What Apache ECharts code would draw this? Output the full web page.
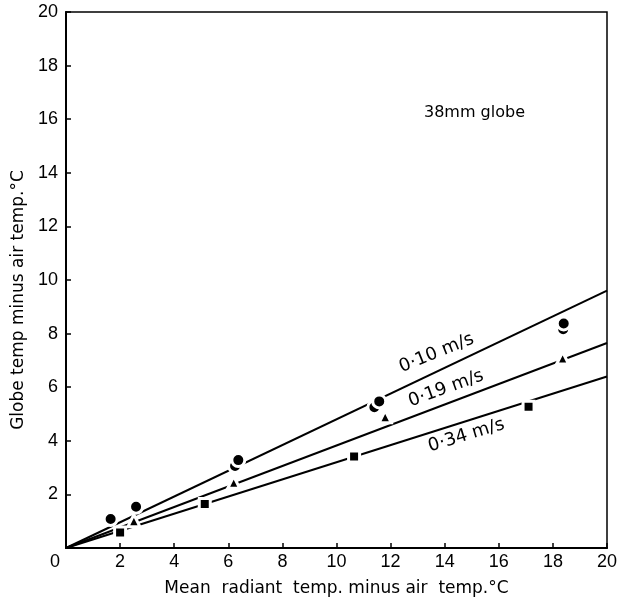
<!DOCTYPE html>
<html>
<head>
<meta charset="utf-8">
<script src="https://cdn.jsdelivr.net/npm/echarts@6/dist/echarts.min.js"></script>
<style>html,body{margin:0;padding:0;background:#fff;}#c{width:618px;height:599px;}</style>
</head>
<body>
<div id="c"></div>
<script>
// Fitted lines (start and end in data units)
const line010 = [[0, 0], [20, 9.6]];
const line019 = [[0, 0], [20, 7.65]];
const line034 = [[0, 0], [20, 6.4]];

// Measured points
const circles010 = [[1.65, 1.08], [2.59, 1.54], [6.25, 3.06], [6.37, 3.28], [11.4, 5.25], [11.58, 5.47], [18.38, 8.16], [18.4, 8.38]];
const triangles019 = [[2.51, 1.02], [6.2, 2.45], [11.8, 4.9], [18.36, 7.09]];
const squares034 = [[2.0, 0.58], [5.13, 1.64], [10.65, 3.41], [17.1, 5.27]];

// Line labels: [x, y, text, angle]
const lineLabels = [
  [13.7, 7.27, '0·10 m/s', 22],
  [14.05, 5.95, '0·19 m/s', 20],
  [14.8, 4.2, '0·34 m/s', 17]
];

const xTicks = [0, 2, 4, 6, 8, 10, 12, 14, 16, 18, 20];
const yTicks = [0, 2, 4, 6, 8, 10, 12, 14, 16, 18, 20];

const font = 'Liberation Sans, Arial, Helvetica, sans-serif';
const nameFont = 'DejaVu Sans, Liberation Sans, sans-serif';
const chart = echarts.init(document.getElementById('c'), null, {renderer: 'canvas'});

function lineSeries(d) {
  return {type: 'line', data: d, symbol: 'none', silent: true, z: 2,
    lineStyle: {color: '#000', width: 2}};
}
function pts(d, sym, size) {
  return {type: 'scatter', data: d, symbol: sym, symbolSize: size, z: 5, silent: true,
    itemStyle: {color: '#000', opacity: 1, borderColor: '#fff', borderWidth: 3}};
}

chart.setOption({
  animation: false,
  backgroundColor: '#fff',
  grid: {left: 66, right: 11, top: 12, bottom: 51, show: true, borderColor: '#000', borderWidth: 1.5,
    backgroundColor: 'transparent', containLabel: false, outerBoundsMode: 'none'},
  xAxis: {
    type: 'value', min: xTicks[0], max: xTicks[xTicks.length - 1], interval: 2,
    name: 'Mean  radiant  temp. minus air  temp.°C', nameLocation: 'middle', nameGap: 32,
    nameTextStyle: {color: '#000', fontSize: 17, fontFamily: nameFont},
    axisLine: {show: true, lineStyle: {color: '#000', width: 2}},
    axisTick: {show: true, inside: true, length: 5, lineStyle: {color: '#000', width: 1.5}},
    axisLabel: {color: '#000', fontSize: 18, fontFamily: font, margin: 5,
      formatter: v => v === 0 ? '{z|0}' : String(v),
      rich: {z: {fontSize: 18, fontFamily: font, color: '#000', padding: [0, 22, 0, 0]}}},
    splitLine: {show: false}
  },
  yAxis: {
    type: 'value', min: yTicks[0], max: yTicks[yTicks.length - 1], interval: 2,
    name: 'Globe temp minus air temp.°C', nameLocation: 'middle', nameGap: 39,
    nameTextStyle: {color: '#000', fontSize: 17, fontFamily: nameFont, padding: [0, 40, 0, 0]},
    axisLine: {show: true, lineStyle: {color: '#000', width: 2}},
    axisTick: {show: true, inside: true, length: 5, lineStyle: {color: '#000', width: 1.5}},
    axisLabel: {color: '#000', fontSize: 18, fontFamily: font, margin: 8,
      formatter: v => v === 0 ? '' : String(v)},
    splitLine: {show: false}
  },
  graphic: [{type: 'text', left: 424, top: 105,
    style: {text: '38mm globe', fill: '#000', font: '16px ' + nameFont}}],
  series: [
    lineSeries(line010), lineSeries(line019), lineSeries(line034),
    pts(circles010, 'circle', 13),
    pts(triangles019, 'triangle', 12),
    pts(squares034, 'rect', 11),
    {type: 'scatter', symbolSize: 0, silent: true, z: 6, itemStyle: {opacity: 1},
      data: lineLabels.map(l => ({value: [l[0], l[1]], label: {show: true, position: 'inside', formatter: l[2], rotate: l[3],
        color: '#000', opacity: 1, fontSize: 18, fontFamily: nameFont}}))}
  ]
});
</script>
</body>
</html>
